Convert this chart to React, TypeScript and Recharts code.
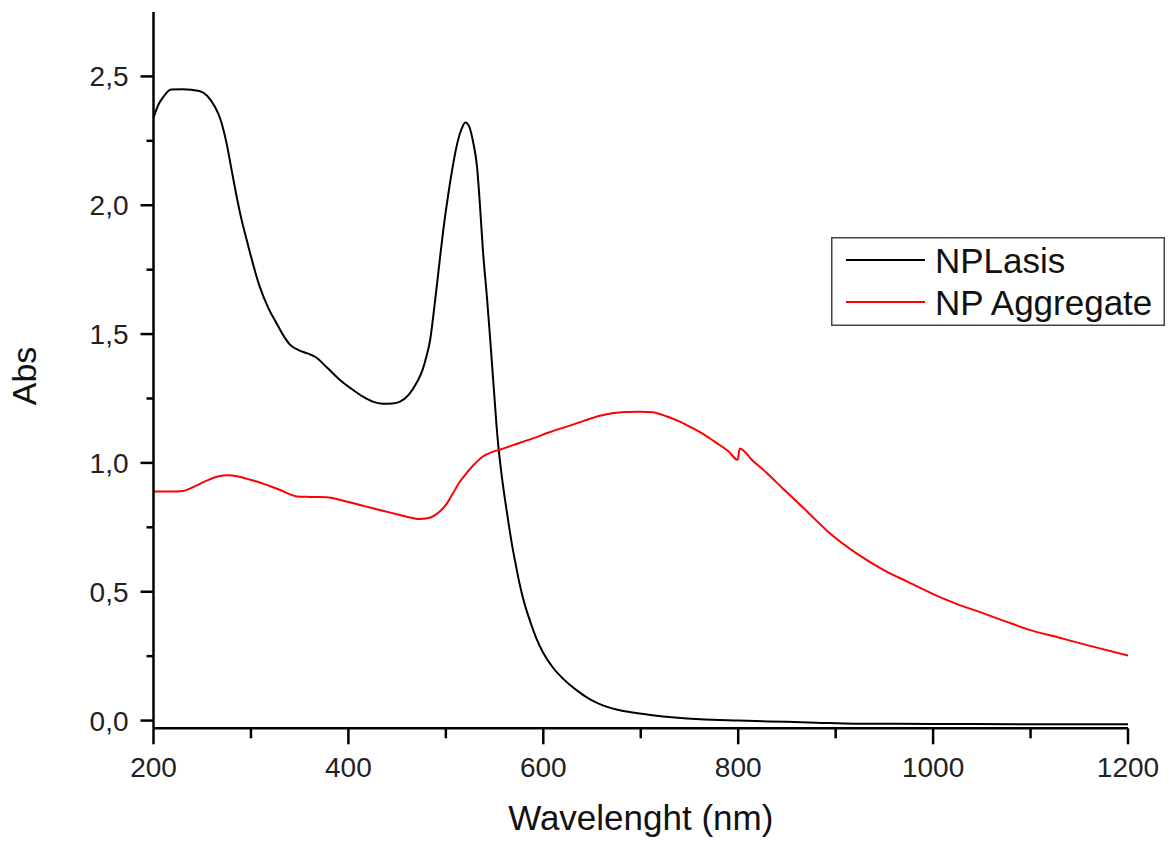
import { LineChart, Line, XAxis, YAxis, Legend, Label } from "recharts";

const seriesNames = ["NPLasis", "NP Aggregate"];

// NPLasis spectrum (black)
const npLasisNm = [
  200, 205, 210, 218, 230, 247, 255, 263, 269, 275, 280, 285, 290, 296, 309,
  318, 326, 334, 340, 350, 358, 367, 378, 391, 403, 415, 425, 435, 445, 453,
  462, 470, 476, 480, 484, 487, 492, 497, 502, 507, 512, 516, 520, 524, 528,
  532, 535, 538, 542, 545, 549, 553, 557, 561, 565, 568, 572, 576, 581, 586,
  593, 600, 610, 621, 634, 648, 661, 676, 692, 710, 735, 761, 800, 850, 880,
  920, 1000, 1100, 1200,
];
const npLasisAbs = [
  2.34, 2.39, 2.42, 2.449, 2.45, 2.443, 2.425, 2.382, 2.33, 2.24, 2.14, 2.04,
  1.95, 1.86, 1.684, 1.6, 1.544, 1.49, 1.459, 1.436, 1.425, 1.409, 1.37, 1.323,
  1.288, 1.257, 1.238, 1.23, 1.231, 1.238, 1.265, 1.311, 1.36, 1.412, 1.48,
  1.567, 1.73, 1.893, 2.03, 2.149, 2.245, 2.295, 2.321, 2.305, 2.245, 2.149,
  2.0, 1.827, 1.65, 1.505, 1.3, 1.1, 0.96, 0.85, 0.75, 0.68, 0.6, 0.525, 0.45,
  0.391, 0.318, 0.262, 0.205, 0.16, 0.118, 0.082, 0.059, 0.042, 0.031, 0.022,
  0.012, 0.005, 0.0, -0.005, -0.008, -0.012, -0.013, -0.014, -0.014,
];

// NP Aggregate spectrum (red)
const npAggNm = [
  200, 215, 230, 240, 254, 266, 276, 287, 296, 306, 318, 330, 340, 347, 360,
  378, 390, 398, 412, 425, 440, 453, 465, 473, 481, 487, 494, 501, 507, 514,
  520, 528, 538, 548, 556, 570, 590, 607, 624, 641, 658, 672, 685, 700, 712,
  727, 740, 750, 765, 778, 790, 799.5, 801.5, 815, 829, 846, 860, 873, 894,
  921, 949, 973, 1000, 1024, 1051, 1075, 1099, 1127, 1161, 1200,
];
const npAggAbs = [
  0.889, 0.889, 0.891, 0.905, 0.93, 0.947, 0.952, 0.947, 0.938, 0.928, 0.912,
  0.895, 0.878, 0.87, 0.868, 0.867, 0.858, 0.85, 0.837, 0.824, 0.81, 0.798,
  0.787, 0.782, 0.785, 0.793, 0.812, 0.842, 0.88, 0.925, 0.955, 0.99, 1.025,
  1.043, 1.052, 1.07, 1.096, 1.12, 1.141, 1.162, 1.183, 1.194, 1.198, 1.199,
  1.197, 1.18, 1.16, 1.141, 1.11, 1.077, 1.045, 1.012, 1.056, 1.008, 0.962,
  0.9, 0.85, 0.803, 0.727, 0.65, 0.585, 0.54, 0.491, 0.453, 0.417, 0.384,
  0.352, 0.324, 0.29, 0.252,
];

const xMajorTicks = [200, 400, 600, 800, 1000, 1200];
const xMinorTicks = [300, 500, 700, 900, 1100];
const yMajorTicks = [0, 0.5, 1.0, 1.5, 2.0, 2.5];
const yMinorTicks = [0.25, 0.75, 1.25, 1.75, 2.25];

const npLasisData = npLasisNm.map((nm, i) => ({ nm, abs: npLasisAbs[i] }));
const npAggData = npAggNm.map((nm, i) => ({ nm, abs: npAggAbs[i] }));

const FONT = '"Liberation Sans", Arial, sans-serif';

function XTick({ x, y, payload }: any) {
  const major = xMajorTicks.includes(payload.value);
  return (
    <g>
      <line x1={x} x2={x} y1={y} y2={y + (major ? 16 : 10)} stroke="#000" strokeWidth={2.5} />
      {major && (
        <text x={x} y={y + 49} textAnchor="middle" fontSize={28} fill="#222" fontFamily={FONT}>
          {payload.value}
        </text>
      )}
    </g>
  );
}

function YTick({ x, y, payload }: any) {
  const major = yMajorTicks.includes(payload.value);
  return (
    <g>
      <line x1={x} x2={x - (major ? 13 : 7)} y1={y} y2={y} stroke="#000" strokeWidth={2.5} />
      {major && (
        <text x={x - 25} y={y + 10} textAnchor="end" fontSize={28} fill="#222" fontFamily={FONT}>
          {payload.value.toFixed(1).replace(".", ",")}
        </text>
      )}
    </g>
  );
}

function LegendBox({ payload }: any) {
  const items = [...(payload || [])].sort(
    (a: any, b: any) => seriesNames.indexOf(a.value) - seriesNames.indexOf(b.value)
  );
  return (
    <svg width={334} height={89} style={{ display: "block" }}>
      <rect x={0.75} y={0.75} width={332.5} height={87.5} fill="#fff" stroke="#444" strokeWidth={1.5} />
      {items.map((p: any, i: number) => (
        <g key={p.value}>
          <line x1={15} x2={94} y1={23 + i * 42} y2={23 + i * 42} stroke={p.color} strokeWidth={2} />
          <text x={104} y={36 + i * 42} fontSize={35} fill="#111" fontFamily={FONT}>
            {p.value}
          </text>
        </g>
      ))}
    </svg>
  );
}

export default function App() {
  return (
    <div style={{ position: "absolute", left: 0, top: 0, background: "#fff" }}>
      <LineChart
        width={1170}
        height={841}
        margin={{ top: 12, right: 42, left: 0, bottom: 12 }}
      >
        <XAxis
          dataKey="nm"
          type="number"
          domain={[200, 1200]}
          ticks={[...xMajorTicks, ...xMinorTicks].sort((a, b) => a - b)}
          allowDataOverflow
          height={100.7}
          tickSize={0}
          tickMargin={0}
          tickLine={false}
          axisLine={{ stroke: "#000", strokeWidth: 2.5 }}
          tick={<XTick />}
          interval={0}
        >
          <Label
            content={({ viewBox }: any) => (
              <text
                x={viewBox.x + viewBox.width / 2}
                y={viewBox.y + 102}
                textAnchor="middle"
                fontSize={35}
                fill="#111"
                fontFamily={FONT}
              >
                Wavelenght (nm)
              </text>
            )}
          />
        </XAxis>
        <YAxis
          type="number"
          domain={[-0.03, 2.75]}
          ticks={[...yMajorTicks, ...yMinorTicks].sort((a, b) => a - b)}
          allowDataOverflow
          width={153.5}
          tickSize={0}
          tickMargin={0}
          tickLine={false}
          axisLine={{ stroke: "#000", strokeWidth: 2.5 }}
          tick={<YTick />}
          interval={0}
        >
          <Label
            content={() => (
              <text
                transform="translate(36, 376) rotate(-90)"
                textAnchor="middle"
                fontSize={34}
                fill="#111"
                fontFamily={FONT}
              >
                Abs
              </text>
            )}
          />
        </YAxis>
        <Legend
          layout="vertical"
          align="center"
          verticalAlign="middle"
          wrapperStyle={{ position: "absolute", left: 831, top: 237, width: 334, height: 89 }}
          content={<LegendBox />}
        />
        <Line
          data={npLasisData}
          dataKey="abs"
          name="NPLasis"
          type="monotone"
          stroke="#000"
          strokeWidth={2}
          dot={false}
          isAnimationActive={false}
        />
        <Line
          data={npAggData}
          dataKey="abs"
          name="NP Aggregate"
          type="monotone"
          stroke="#ff0000"
          strokeWidth={2}
          dot={false}
          isAnimationActive={false}
        />
      </LineChart>
    </div>
  );
}
